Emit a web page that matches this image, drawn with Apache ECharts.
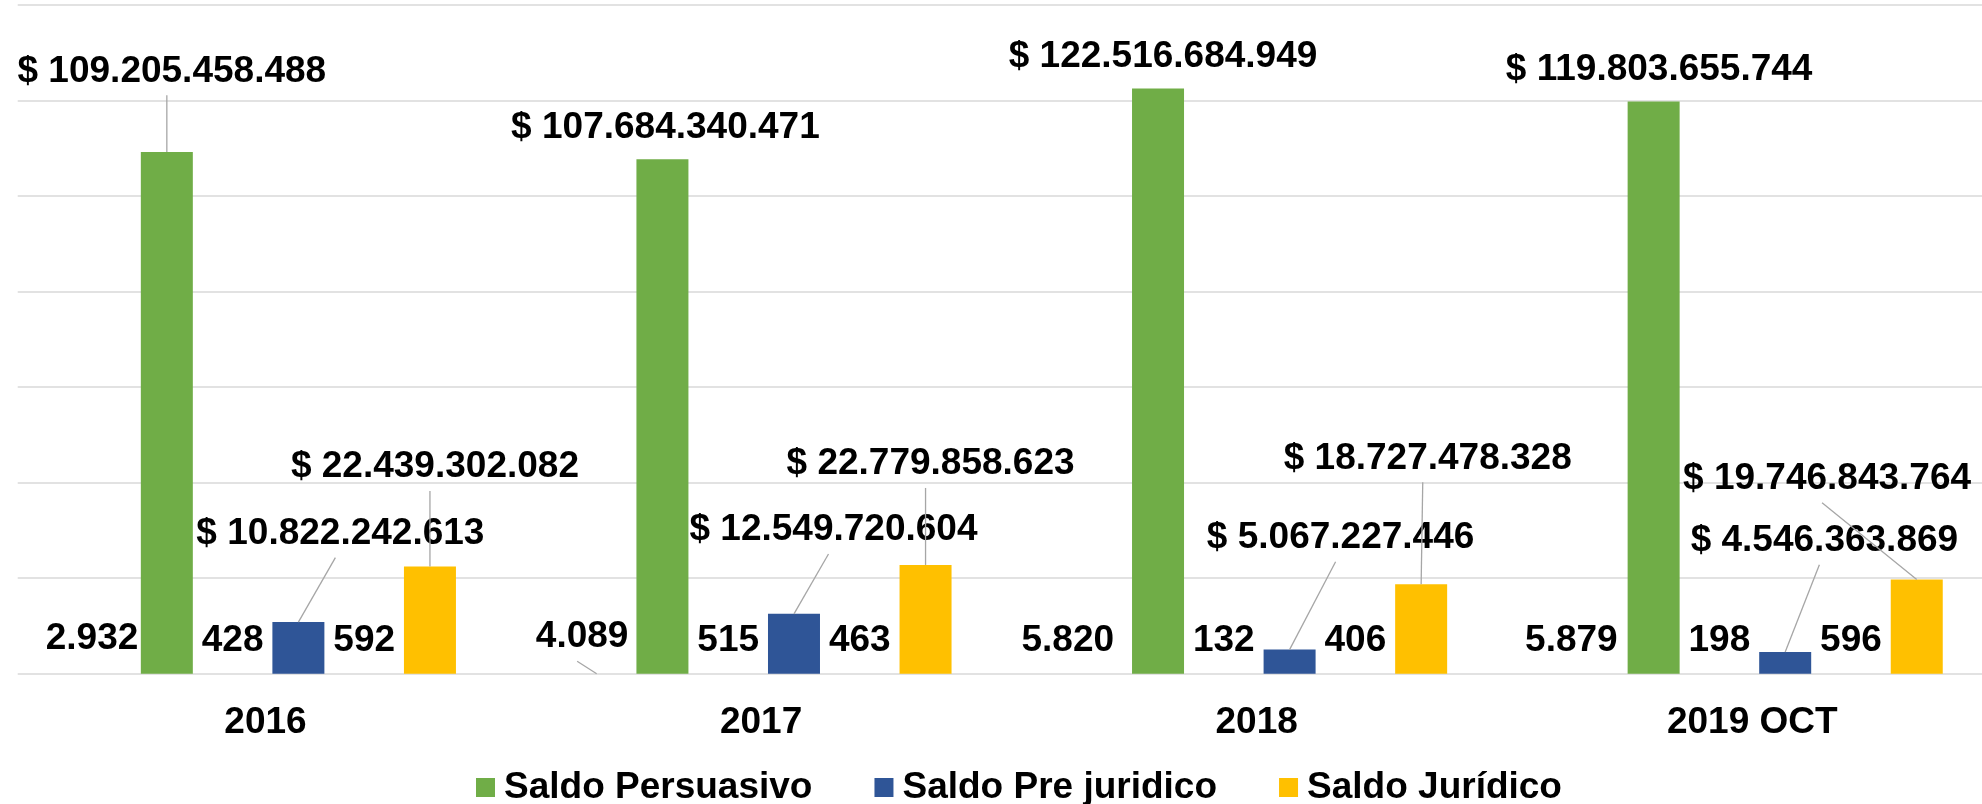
<!DOCTYPE html>
<html>
<head>
<meta charset="utf-8">
<script src="https://cdn.jsdelivr.net/npm/echarts@6/dist/echarts.min.js"></script>
<style>
    html, body { margin: 0; padding: 0; background: #fff; }
    #chart { width: 1982px; height: 804px; }
</style>
</head>
<body>
<div id="chart"></div>
<script>
const categories = ['2016', '2017', '2018', '2019 OCT'];

const cantidadPersuasivo = [2932, 4089, 5820, 5879];
const saldoPersuasivo = [109205458488, 107684340471, 122516684949, 119803655744];
const cantidadPreJuridico = [428, 515, 132, 198];
const saldoPreJuridico = [10822242613, 12549720604, 5067227446, 4546363869];
const cantidadJuridico = [592, 463, 406, 596];
const saldoJuridico = [22439302082, 22779858623, 18727478328, 19746843764];

const legendNames = ['Saldo Persuasivo', 'Saldo Pre juridico', 'Saldo Jurídico'];

// where each value label sits: offset of its centre from the top middle of the bar, and whether a leader line is drawn
const spotCantPers = [[-9, -34.6, 0], [-14.5, -36.6, 1], [-24.5, -32.8, 0], [-16.5, -32.8, 0]];
const spotSaldoPers = [[5, -80.7, 1], [3, -31.6, 0], [5, -32, 0], [5.5, -32, 0]];
const spotCantPre = [[0, -33, 0], [0, -32.8, 0], [0, -32.8, 0], [0, -32.8, 0]];
const spotSaldoPre = [[42, -88.4, 1], [39.5, -83.8, 1], [51, -111.8, 1], [39.2, -111.3, 1]];
const spotCantJur = [[0, -33, 0], [0, -32.8, 0], [0, -32.8, 0], [0, -32.8, 0]];
const spotSaldoJur = [[5, -99.6, 1], [5, -101, 1], [6.6, -126, 1], [-89.7, -100.8, 1]];

const barW = 52;
const barGap = 0.265;
const font = '"Liberation Sans", Arial, sans-serif';

function miles(n) {
    return String(n).replace(/\B(?=(\d{3})+(?!\d))/g, '.');
}

function placeLabels(spots) {
    return function (params) {
        const s = spots[params.dataIndex];
        return {
            x: params.rect.x + params.rect.width / 2 + s[0],
            y: params.rect.y + s[1],
            align: 'center',
            verticalAlign: 'middle'
        };
    };
}

function barSeries(name, values, color, spots, money) {
    return {
        name: name,
        type: 'bar',
        data: values,
        barWidth: barW,
        barGap: (barGap * 100) + '%',
        itemStyle: { color: color },
        label: {
            show: true,
            position: 'top',
            color: '#000',
            fontFamily: font,
            fontWeight: 'bold',
            fontSize: 37,
            formatter: p => (money ? '$ ' : '') + miles(p.value)
        },
        labelLayout: placeLabels(spots)
    };
}

const columns = [
    [cantidadPersuasivo, spotCantPers],
    [saldoPersuasivo, spotSaldoPers],
    [cantidadPreJuridico, spotCantPre],
    [saldoPreJuridico, spotSaldoPre],
    [cantidadJuridico, spotCantJur],
    [saldoJuridico, spotSaldoJur]
];
const leaderData = [];
columns.forEach((c, slot) => {
    c[0].forEach((v, i) => {
        if (c[1][i][2]) leaderData.push([i, v, slot, c[1][i][0], c[1][i][1]]);
    });
});

const chart = echarts.init(document.getElementById('chart'));
chart.setOption({
    animation: false,
    grid: { left: 17.7, top: 4.9, width: 1982.4, height: 668.9, outerBoundsMode: 'none' },
    legend: {
        data: legendNames,
        left: 471,
        top: 764,
        icon: 'rect',
        itemWidth: 19,
        itemHeight: 19,
        itemGap: 62,
        textStyle: { color: '#000', fontFamily: font, fontWeight: 'bold', fontSize: 37, padding: [0, 0, 0, 4] }
    },
    xAxis: {
        type: 'category',
        data: categories,
        axisLine: { show: false },
        axisTick: { show: false },
        axisLabel: { color: '#000', fontFamily: font, fontWeight: 'bold', fontSize: 37, margin: 30 }
    },
    yAxis: {
        type: 'value',
        min: 0,
        max: 140000000000,
        interval: 20000000000,
        axisLabel: { show: false },
        axisLine: { show: false },
        axisTick: { show: false },
        splitLine: { lineStyle: { color: '#d9d9d9', width: 1.5 } }
    },
    series: [
        barSeries('Cantidad Persuasivo', cantidadPersuasivo, '#70ad47', spotCantPers, false),
        barSeries('Saldo Persuasivo', saldoPersuasivo, '#70ad47', spotSaldoPers, true),
        barSeries('Cantidad Pre juridico', cantidadPreJuridico, '#2f5597', spotCantPre, false),
        barSeries('Saldo Pre juridico', saldoPreJuridico, '#2f5597', spotSaldoPre, true),
        barSeries('Cantidad Juridico', cantidadJuridico, '#ffc000', spotCantJur, false),
        barSeries('Saldo Jurídico', saldoJuridico, '#ffc000', spotSaldoJur, true),
        {
            name: 'leader',
            type: 'custom',
            data: leaderData,
            encode: { x: 0, y: 1 },
            silent: true,
            z: 3,
            renderItem: function (params, api) {
                const top = api.coord([api.value(0), api.value(1)]);
                const x = top[0] + (api.value(2) - 2.5) * barW * (1 + barGap);
                return {
                    type: 'line',
                    shape: { x1: x, y1: top[1], x2: x + api.value(3) - 5, y2: top[1] + api.value(4) + 24 },
                    style: { stroke: '#a6a6a6', lineWidth: 1.3 }
                };
            }
        }
    ]
});
</script>
</body>
</html>
